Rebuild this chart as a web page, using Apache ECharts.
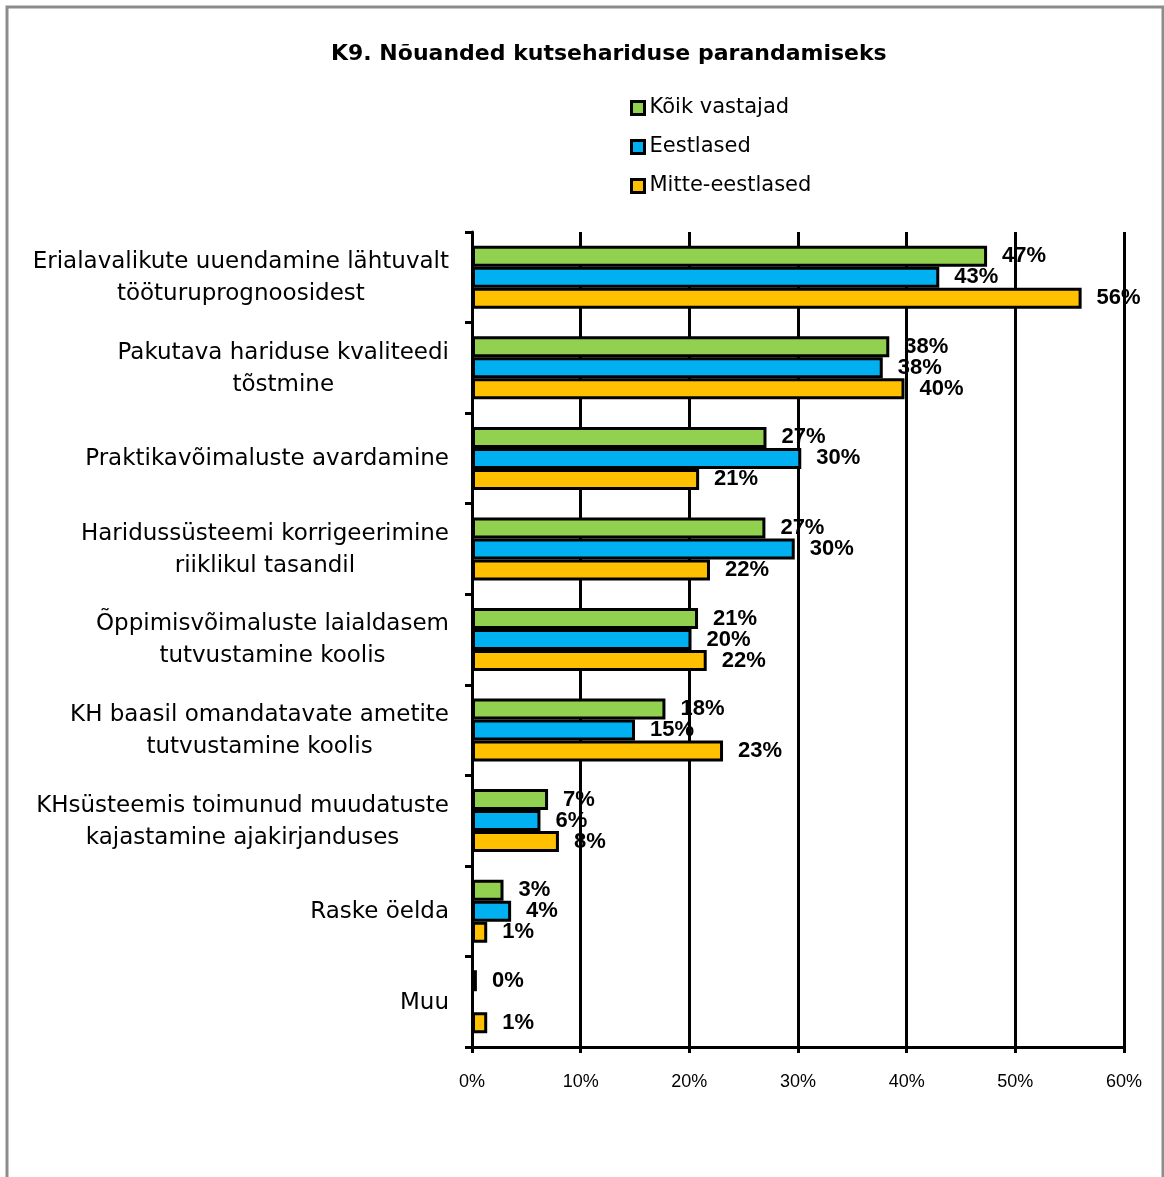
<!DOCTYPE html>
<html>
<head>
<meta charset="utf-8">
<title>K9</title>
<script src="https://cdn.jsdelivr.net/npm/echarts@6/dist/echarts.min.js"></script>
<style>
  html, body { margin: 0; padding: 0; background: #fff; }
  #chart { width: 1164px; height: 1177px; }
</style>
</head>
<body>
<div id="chart"></div>
<script>
  // kategooriad (ülevalt alla), read eraldatud \n
  var categories = [
    'Erialavalikute uuendamine lähtuvalt\ntööturuprognoosidest',
    'Pakutava hariduse kvaliteedi\ntõstmine',
    'Praktikavõimaluste avardamine',
    'Haridussüsteemi korrigeerimine\nriiklikul tasandil',
    'Õppimisvõimaluste laialdasem\ntutvustamine koolis',
    'KH baasil omandatavate ametite\ntutvustamine koolis',
    'KHsüsteemis toimunud muudatuste\nkajastamine ajakirjanduses',
    'Raske öelda',
    'Muu'
  ]
  var seriesNames = ['Kõik vastajad', 'Eestlased', 'Mitte-eestlased']
  var koik = [47.4, 38.4, 27.1, 27.0, 20.8, 17.8, 7.0, 2.9, 0.45]
  var eestlased = [43.0, 37.8, 30.3, 29.7, 20.2, 15.0, 6.3, 3.6, null]
  var mitteEestlased = [56.1, 39.8, 20.9, 21.9, 21.6, 23.1, 8.0, 1.4, 1.4]
  var xTicks = [0, 10, 20, 30, 40, 50, 60]

  var colors = ['#92D050', '#00B0F0', '#FFC000']
  var font = '"Liberation Sans", Arial, sans-serif'
  var wideFont = '"DejaVu Sans", sans-serif'

  var chart = echarts.init(document.getElementById('chart'))

  function makeSeries(name, data, color) {
    return {
      name: name,
      type: 'bar',
      data: data,
      barWidth: 21,
      barGap: '0%',
      itemStyle: { color: color, borderColor: '#000', borderWidth: 3 },
      label: {
        show: true,
        position: 'right',
        distance: 15,
        fontFamily: font,
        fontSize: 22,
        fontWeight: 'bold',
        color: '#000',
        formatter: function (p) { return Math.round(p.value) + '%' }
      }
    }
  }

  chart.setOption({
    animation: false,
    backgroundColor: '#fff',
    color: colors,
    graphic: [{
      type: 'rect',
      shape: { x: 7, y: 7, width: 1156, height: 1200 },
      style: { fill: 'none', stroke: '#8c8c8c', lineWidth: 3 },
      silent: true
    }],
    title: {
      text: 'K9. Nõuanded kutsehariduse parandamiseks',
      left: 326,
      top: 38,
      textStyle: { fontFamily: wideFont, fontSize: 22, fontWeight: 'bold', color: '#000' }
    },
    legend: {
      orient: 'vertical',
      left: 625,
      top: 91,
      itemWidth: 13,
      itemHeight: 13,
      itemGap: 15,
      icon: 'rect',
      itemStyle: { borderColor: '#000', borderWidth: 3 },
      textStyle: { fontFamily: wideFont, fontSize: 21, color: '#000', lineHeight: 24 },
      data: seriesNames
    },
    grid: { left: 472, right: 40, top: 232, bottom: 130 },
    xAxis: {
      type: 'value',
      min: xTicks[0],
      max: xTicks[xTicks.length - 1],
      interval: 10,
      axisLine: { show: true, lineStyle: { color: '#000', width: 3 } },
      axisTick: { show: true, length: 6, lineStyle: { color: '#000', width: 3 } },
      splitLine: { show: true, lineStyle: { color: '#000', width: 3 } },
      axisLabel: {
        margin: 26,
        fontFamily: font,
        fontSize: 18,
        color: '#000',
        formatter: '{value}%'
      }
    },
    yAxis: {
      type: 'category',
      inverse: true,
      data: categories,
      axisLine: { show: true, lineStyle: { color: '#000', width: 3 } },
      axisTick: { show: true, length: 7, lineStyle: { color: '#000', width: 3 } },
      axisLabel: {
        margin: 23,
        color: '#000',
        formatter: function (v) {
          return v.split('\n').map(function (s) { return '{c|' + s + '}' }).join('\n')
        },
        rich: {
          c: { align: 'center', fontFamily: wideFont, fontSize: 23, lineHeight: 32, color: '#000', padding: [2, 0, 0, 0] }
        }
      }
    },
    series: [
      makeSeries(seriesNames[0], koik, colors[0]),
      makeSeries(seriesNames[1], eestlased, colors[1]),
      makeSeries(seriesNames[2], mitteEestlased, colors[2])
    ]
  })
</script>
</body>
</html>
